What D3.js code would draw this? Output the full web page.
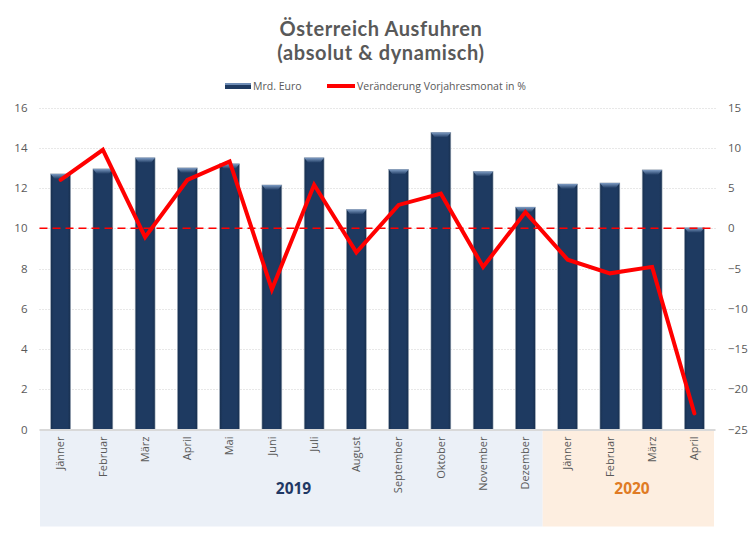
<!DOCTYPE html>
<html>
<head>
<meta charset="utf-8">
<script src="https://cdn.jsdelivr.net/npm/d3@7/dist/d3.min.js"></script>
<style>
  html, body { margin: 0; padding: 0; background: #ffffff; }
  svg { display: block; font-family: "Open Sans", "DejaVu Sans", sans-serif; }
</style>
</head>
<body>
<svg id="chart" width="751" height="535"></svg>
<script>
// ---- data ----
const months = ["Jänner","Februar","März","April","Mai","Juni","Juli","August","September","Oktober","November","Dezember","Jänner","Februar","März","April"];
const years = ["2019","2019","2019","2019","2019","2019","2019","2019","2019","2019","2019","2019","2020","2020","2020","2020"];
const exportsBn = [12.7, 12.95, 13.5, 13.0, 13.2, 12.15, 13.5, 10.93, 12.92, 14.76, 12.82, 11.05, 12.2, 12.25, 12.9, 10.02];
const changePct = [6.0, 9.75, -1.1, 6.0, 8.3, -7.6, 5.4, -3.0, 2.9, 4.3, -4.8, 2.0, -3.9, -5.6, -4.8, -23.0];
const leftTicks = [0, 2, 4, 6, 8, 10, 12, 14, 16];
const rightTicks = [-25, -20, -15, -10, -5, 0, 5, 10, 15];
const yearGroups = ["2019", "2020"];
const titleLines = ["Österreich Ausfuhren", "(absolut & dynamisch)"];
const legendLabels = ["Mrd. Euro", "Veränderung Vorjahresmonat in %"];

// ---- layout ----
const svg = d3.select("#chart");
const plot = { left: 39.5, right: 715.5, top: 107.5, bottom: 429.5 };
const idx = d3.range(months.length);

const x = d3.scaleBand().domain(idx).range([plot.left, plot.right]).paddingInner(0.53).paddingOuter(0.265);
const yL = d3.scaleLinear().domain([0, 16]).range([plot.bottom, plot.top]);
const yR = d3.scaleLinear().domain([-25, 15]).range([plot.bottom, plot.top]);
const xc = i => x(i) + x.bandwidth() / 2;

const gray = "#595959";
const navy = "#1E3A61";

// defs
const defs = svg.append("defs");
const bevel = defs.append("linearGradient").attr("id", "bevel").attr("x1", 0).attr("y1", 0).attr("x2", 0).attr("y2", 1);
bevel.append("stop").attr("offset", "0%").attr("stop-color", "#7E9CC4");
bevel.append("stop").attr("offset", "100%").attr("stop-color", navy);
const side = defs.append("linearGradient").attr("id", "side").attr("x1", 0).attr("y1", 0).attr("x2", 1).attr("y2", 0);
side.append("stop").attr("offset", "0%").attr("stop-color", "#18304F");
side.append("stop").attr("offset", "15%").attr("stop-color", navy);
side.append("stop").attr("offset", "85%").attr("stop-color", navy);
side.append("stop").attr("offset", "100%").attr("stop-color", "#18304F");

// ---- year background panels ----
const groupExtent = yearGroups.map(yr => {
  const ids = idx.filter(i => years[i] === yr);
  return { yr, first: d3.min(ids), last: d3.max(ids) };
});
const panelColors = { "2019": "#EBF0F7", "2020": "#FDEEE0" };
const labelColors = { "2019": "#1F3864", "2020": "#E07B24" };
const panelStart = d => d.first === 0 ? plot.left + 0.5 : x(d.first) - 15;
const panelEnd = d => d.last === months.length - 1 ? plot.right - 1.5 : x(d.last + 1) - 15;
svg.append("g").selectAll("rect").data(groupExtent).join("rect")
  .attr("x", d => panelStart(d))
  .attr("width", d => panelEnd(d) - panelStart(d))
  .attr("y", plot.bottom + 1)
  .attr("height", 96)
  .attr("fill", d => panelColors[d.yr]);

svg.append("g").selectAll("text").data(groupExtent).join("text")
  .attr("x", d => d.yr === "2019" ? (x(d.first) + x(d.last) + x.bandwidth()) / 2 + 0.5 : (x(d.first) + x(d.last) + x.bandwidth()) / 2 + 1)
  .attr("y", 494)
  .attr("text-anchor", "middle")
  .attr("font-size", 15.5)
  .attr("font-weight", 700)
  .attr("fill", d => labelColors[d.yr])
  .text(d => d.yr);

// ---- gridlines ----
svg.append("g").selectAll("line").data(leftTicks.filter(t => t > 0)).join("line")
  .attr("x1", plot.left).attr("x2", plot.right)
  .attr("y1", d => Math.round(yL(d)) + 0.5).attr("y2", d => Math.round(yL(d)) + 0.5)
  .attr("stroke", "#D0D0D0").attr("stroke-width", 1).attr("stroke-dasharray", "1,2");

// ---- axes ----
const axL = svg.append("g").attr("transform", `translate(${plot.left - 12},0)`)
  .call(d3.axisLeft(yL).tickValues(leftTicks).tickSize(0).tickPadding(0));
axL.select(".domain").remove();
axL.selectAll("text").attr("font-size", 11.5).attr("fill", gray).attr("font-family", "Open Sans");

const axR = svg.append("g").attr("transform", `translate(${plot.right + 12.5},0)`)
  .call(d3.axisRight(yR).tickValues(rightTicks).tickSize(0).tickPadding(0));
axR.select(".domain").remove();
axR.selectAll("text").attr("font-size", 11.5).attr("fill", gray).attr("font-family", "Open Sans");

// ---- bars ----
const bars = svg.append("g");
bars.selectAll("rect.bar").data(idx).join("rect").attr("class", "bar")
  .attr("x", i => x(i)).attr("width", x.bandwidth())
  .attr("y", i => yL(exportsBn[i])).attr("height", i => yL(0) - yL(exportsBn[i]))
  .attr("fill", "url(#side)")
  .attr("stroke", "#9AA6B5").attr("stroke-width", 0.6);
bars.selectAll("path.bev").data(idx).join("path").attr("class", "bev")
  .attr("d", i => {
    const x0 = x(i), w = x.bandwidth(), y0 = yL(exportsBn[i]);
    return `M${x0},${y0} L${x0 + w},${y0} L${x0 + w - 4},${y0 + 5} L${x0 + 4},${y0 + 5} Z`;
  })
  .attr("fill", "url(#bevel)");

// baseline
svg.append("line").attr("x1", plot.left).attr("x2", plot.right)
  .attr("y1", yL(0) + 0.5).attr("y2", yL(0) + 0.5)
  .attr("stroke", "#D9D9D9").attr("stroke-width", 2);

// zero reference (dashed)
svg.append("line").attr("x1", plot.left).attr("x2", plot.right)
  .attr("y1", yR(0)).attr("y2", yR(0))
  .attr("stroke", "#FF0000").attr("stroke-width", 1.6).attr("stroke-dasharray", "8,5");

// ---- line ----
const line = d3.line().x(i => xc(i)).y(i => yR(changePct[i]));
svg.append("path").datum(idx).attr("d", line)
  .attr("fill", "none").attr("stroke", "#FF0000").attr("stroke-width", 4)
  .attr("stroke-linejoin", "miter").attr("stroke-linecap", "round");

// ---- month labels ----
svg.append("g").selectAll("text").data(idx).join("text")
  .attr("transform", i => `translate(${xc(i)},${plot.bottom + 7}) rotate(-90)`)
  .attr("text-anchor", "end").attr("dy", "0.35em")
  .attr("font-size", 11).attr("fill", gray)
  .text(i => months[i]);

// ---- title ----
svg.append("g").selectAll("text").data(titleLines).join("text")
  .attr("x", 381).attr("y", (d, i) => 35.5 + i * 24)
  .attr("text-anchor", "middle").attr("font-family", "Lato, 'Open Sans', sans-serif")
  .attr("font-size", 20).attr("font-weight", 700).attr("letter-spacing", 0.6)
  .attr("fill", gray)
  .text(d => d);

// ---- legend ----
const lg = svg.append("g");
lg.append("rect").attr("x", 225).attr("y", 83).attr("width", 26).attr("height", 6).attr("fill", navy);
lg.append("rect").attr("x", 225).attr("y", 83).attr("width", 26).attr("height", 2).attr("fill", "#6F8DB6");
lg.append("text").attr("x", 253).attr("y", 90).attr("font-size", 10.5).attr("fill", gray).text(legendLabels[0]);
lg.append("line").attr("x1", 327).attr("x2", 355).attr("y1", 86).attr("y2", 86).attr("stroke", "#FF0000").attr("stroke-width", 4);
lg.append("text").attr("x", 357).attr("y", 90).attr("font-size", 10.5).attr("fill", gray).text(legendLabels[1]);
</script>
</body>
</html>
